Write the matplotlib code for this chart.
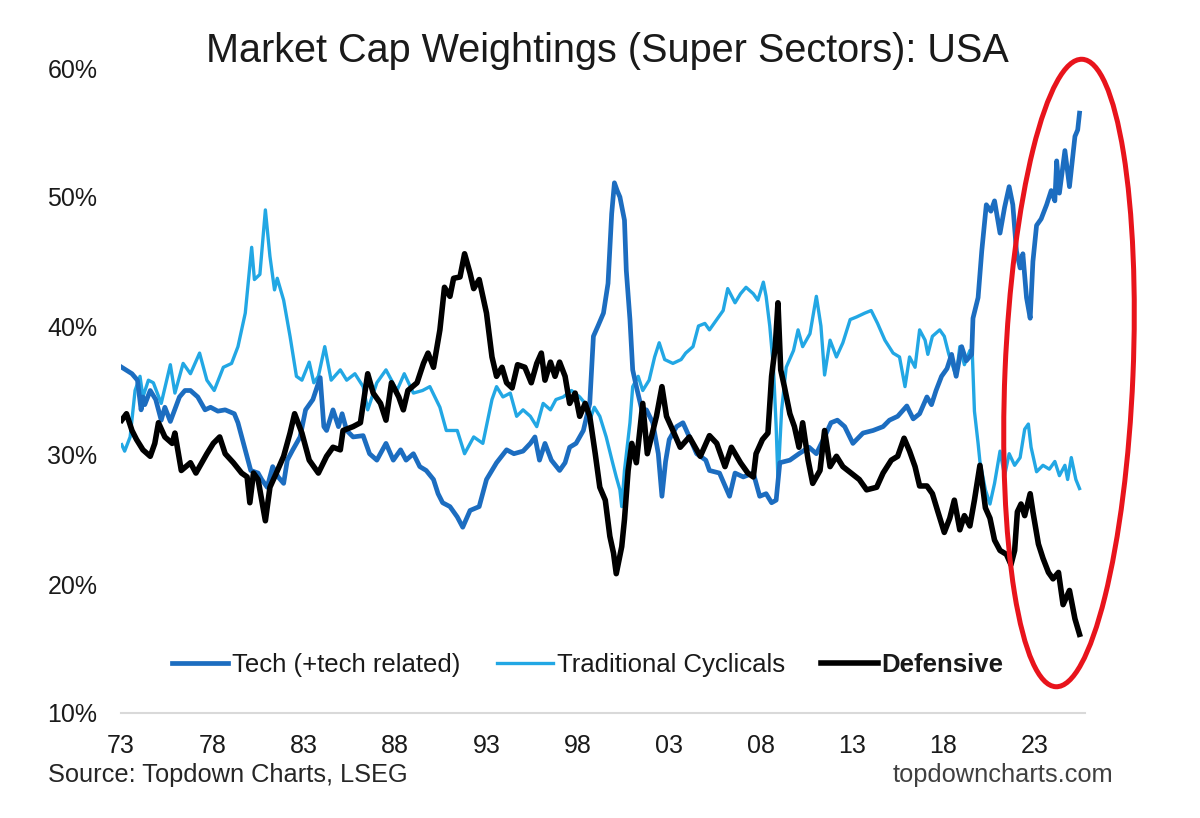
import matplotlib
matplotlib.use('Agg')
import matplotlib.pyplot as plt
from matplotlib.patches import Ellipse

plt.rcParams['font.family'] = ['Liberation Sans', 'DejaVu Sans']

# Tech (+tech related), share of US market cap (%)
tech_years = [
    1973.04, 1973.6, 1973.9, 1974.1, 1974.2, 1974.3, 1974.6, 1974.9, 1975.2, 1975.4,
    1975.7, 1976.2, 1976.5, 1976.8, 1977.2, 1977.6, 1977.9, 1978.3, 1978.7, 1979.2,
    1979.4, 1979.7, 1980.1, 1980.5, 1980.7, 1981.0, 1981.3, 1981.6, 1981.9, 1982.1,
    1982.4, 1982.8, 1983.1, 1983.5, 1983.9, 1984.1, 1984.25, 1984.6, 1984.9, 1985.1,
    1985.35, 1985.7, 1986.25, 1986.6, 1987.0, 1987.5, 1987.9, 1988.3, 1988.6, 1989.0,
    1989.35, 1989.7, 1990.1, 1990.35, 1990.6, 1991.0, 1991.4, 1991.7, 1992.1, 1992.6,
    1993.0, 1993.55, 1994.1, 1994.5, 1995.0, 1995.4, 1995.65, 1995.9, 1996.2, 1996.55,
    1997.0, 1997.3, 1997.55, 1997.9, 1998.3, 1998.65, 1998.85, 1999.1, 1999.4, 1999.65,
    1999.85, 2000.0, 2000.15, 2000.3, 2000.55, 2000.65, 2000.85, 2001.0, 2001.2, 2001.5,
    2001.75, 2002.1, 2002.4, 2002.6, 2002.8, 2003.0, 2003.4, 2003.75, 2004.1, 2004.5,
    2005.0, 2005.2, 2005.75, 2006.3, 2006.6, 2007.05, 2007.6, 2007.95, 2008.3, 2008.6,
    2008.85, 2009.05, 2009.6, 2010.1, 2010.65, 2011.05, 2011.5, 2011.85, 2012.2, 2012.6,
    2013.05, 2013.6, 2014.15, 2014.7, 2015.05, 2015.5, 2016.0, 2016.35, 2016.7, 2017.1,
    2017.35, 2017.6, 2017.9, 2018.2, 2018.45, 2018.7, 2019.0, 2019.25, 2019.55, 2019.62,
    2019.9, 2020.1, 2020.35, 2020.6, 2020.8, 2021.1, 2021.35, 2021.6, 2021.8, 2022.0,
    2022.2, 2022.35, 2022.55, 2022.75, 2022.9, 2023.1, 2023.35, 2023.65, 2023.9, 2024.1,
    2024.2, 2024.35, 2024.65, 2024.9, 2025.2, 2025.35, 2025.45,
]
tech_vals = [
    36.8, 36.3, 35.8, 33.5, 34.5, 33.9, 35.0, 34.3, 32.7, 33.7,
    32.6, 34.5, 35.0, 35.0, 34.5, 33.5, 33.7, 33.4, 33.5, 33.2,
    32.5, 30.9, 28.8, 28.6, 28.1, 27.5, 29.1, 28.3, 27.8, 29.6,
    30.4, 31.4, 33.5, 34.3, 36.0, 32.2, 31.9, 33.5, 32.2, 33.2,
    31.9, 31.4, 31.5, 30.1, 29.6, 30.9, 29.6, 30.4, 29.6, 30.1,
    29.1, 28.8, 28.1, 27.0, 26.3, 26.0, 25.2, 24.4, 25.7, 26.0,
    28.1, 29.4, 30.4, 30.1, 30.3, 30.9, 31.4, 29.6, 30.9, 29.6,
    28.8, 29.4, 30.6, 30.9, 31.9, 34.0, 39.2, 40.0, 41.0, 43.3,
    48.7, 51.1, 50.5, 50.0, 48.2, 44.3, 40.5, 36.6, 35.3, 33.5,
    33.5, 32.5, 30.1, 26.8, 29.5, 31.2, 32.2, 32.5, 31.4, 30.1,
    29.6, 28.8, 28.6, 26.8, 28.6, 28.3, 28.6, 26.8, 27.0, 26.3,
    26.5, 29.4, 29.6, 30.1, 30.6, 30.1, 31.4, 32.5, 32.7, 32.2,
    30.9, 31.7, 31.9, 32.2, 32.7, 33.0, 33.8, 32.8, 33.2, 34.5,
    33.9, 35.0, 36.1, 36.7, 37.8, 36.1, 38.4, 37.3, 37.8, 40.6,
    42.2, 45.8, 49.4, 48.9, 49.7, 47.2, 49.2, 50.8, 49.4, 45.8,
    44.5, 45.6, 42.2, 40.6, 45.0, 47.8, 48.3, 49.4, 50.5, 49.7,
    52.8, 50.3, 53.6, 50.8, 54.7, 55.2, 56.5,
]

# Traditional Cyclicals (%)
cyc_years = [
    1973.04, 1973.2, 1973.5, 1973.77, 1974.04, 1974.2, 1974.5, 1974.77, 1975.2, 1975.7,
    1975.95, 1976.4, 1976.8, 1977.3, 1977.7, 1978.1, 1978.6, 1979.05, 1979.4, 1979.8,
    1980.15, 1980.3, 1980.6, 1980.9, 1981.15, 1981.4, 1981.55, 1981.9, 1982.25, 1982.6,
    1982.9, 1983.3, 1983.55, 1983.8, 1984.15, 1984.5, 1985.0, 1985.35, 1985.8, 1986.25,
    1986.5, 1987.0, 1987.5, 1988.1, 1988.5, 1989.0, 1989.5, 1989.9, 1990.45, 1990.8,
    1991.4, 1991.8, 1992.3, 1992.8, 1993.3, 1993.55, 1993.9, 1994.3, 1994.65, 1995.0,
    1995.4, 1995.75, 1996.1, 1996.5, 1996.8, 1997.2, 1997.65, 1998.1, 1998.4, 1998.65,
    1998.9, 1999.2, 1999.55, 1999.9, 2000.1, 2000.3, 2000.4, 2000.55, 2000.85, 2001.0,
    2001.3, 2001.55, 2001.9, 2002.2, 2002.45, 2002.75, 2003.2, 2003.65, 2003.9, 2004.3,
    2004.6, 2004.95, 2005.2, 2005.6, 2005.95, 2006.2, 2006.6, 2006.9, 2007.2, 2007.6,
    2007.85, 2008.15, 2008.3, 2008.5, 2008.7, 2008.85, 2008.95, 2009.15, 2009.4, 2009.8,
    2010.05, 2010.3, 2010.7, 2011.05, 2011.3, 2011.5, 2011.8, 2012.15, 2012.5, 2012.9,
    2013.25, 2013.7, 2014.05, 2014.4, 2014.8, 2015.25, 2015.6, 2015.9, 2016.15, 2016.45,
    2016.7, 2017.0, 2017.15, 2017.4, 2017.8, 2018.05, 2018.3, 2018.7, 2018.9, 2019.15,
    2019.45, 2019.58, 2019.7, 2019.9, 2020.0, 2020.3, 2020.55, 2020.8, 2021.1, 2021.35,
    2021.6, 2021.9, 2022.2, 2022.45, 2022.65, 2022.8, 2023.1, 2023.45, 2023.8, 2024.1,
    2024.35, 2024.65, 2024.8, 2025.0, 2025.25, 2025.45,
]
cyc_vals = [
    30.8, 30.3, 31.4, 35.0, 36.1, 34.5, 35.8, 35.6, 34.0, 37.0,
    34.8, 37.1, 36.3, 37.9, 35.8, 35.0, 36.8, 37.1, 38.4, 41.0,
    46.1, 43.6, 44.0, 49.0, 45.4, 42.8, 43.7, 42.0, 39.2, 36.1,
    35.8, 37.2, 35.6, 36.1, 38.4, 35.8, 36.6, 35.8, 36.3, 35.3,
    33.5, 35.6, 36.6, 35.0, 36.3, 34.8, 35.0, 35.3, 33.7, 31.9,
    31.9, 30.1, 31.4, 30.9, 34.3, 35.3, 34.5, 34.8, 33.0, 33.5,
    33.0, 32.2, 34.0, 33.5, 34.3, 34.5, 35.0, 34.5, 34.0, 32.7,
    33.7, 33.0, 31.4, 29.4, 28.3, 27.3, 26.0, 28.8, 32.5, 35.3,
    36.1, 35.0, 35.8, 37.6, 38.7, 37.4, 37.1, 37.4, 37.9, 38.4,
    40.0, 40.2, 39.7, 40.5, 41.2, 42.9, 41.8, 42.5, 43.0, 42.5,
    42.0, 43.4, 42.3, 40.0, 36.8, 32.2, 28.0, 33.5, 36.8, 38.1,
    39.7, 38.4, 39.4, 42.3, 40.0, 36.2, 38.9, 37.6, 38.7, 40.5,
    40.7, 41.0, 41.2, 40.2, 38.9, 37.9, 37.6, 35.3, 37.6, 36.8,
    39.7, 38.9, 37.8, 39.2, 39.7, 39.2, 37.8, 36.1, 38.4, 37.0,
    38.1, 38.0, 33.4, 30.9, 29.5, 27.3, 26.2, 27.8, 30.3, 28.4,
    30.1, 29.2, 29.8, 32.0, 32.4, 30.6, 28.7, 29.2, 28.9, 29.5,
    28.4, 29.2, 28.1, 29.8, 28.1, 27.4,
]

# Defensive (%)
def_years = [
    1973.04, 1973.3, 1973.6, 1973.85, 1974.2, 1974.6, 1974.85, 1975.05, 1975.4, 1975.8,
    1975.95, 1976.3, 1976.8, 1977.1, 1977.7, 1978.05, 1978.4, 1978.7, 1979.15, 1979.6,
    1979.9, 1980.05, 1980.25, 1980.5, 1980.9, 1981.15, 1981.5, 1981.9, 1982.25, 1982.5,
    1982.9, 1983.3, 1983.8, 1984.25, 1984.6, 1985.0, 1985.15, 1985.7, 1986.1, 1986.5,
    1986.8, 1987.2, 1987.5, 1987.8, 1988.2, 1988.45, 1988.7, 1989.2, 1989.55, 1989.8,
    1990.1, 1990.45, 1990.7, 1991.0, 1991.2, 1991.55, 1991.8, 1992.1, 1992.3, 1992.6,
    1993.0, 1993.3, 1993.55, 1993.85, 1994.1, 1994.4, 1994.7, 1995.1, 1995.45, 1995.75,
    1996.0, 1996.2, 1996.5, 1996.75, 1997.0, 1997.3, 1997.55, 1997.85, 1998.1, 1998.4,
    1998.65, 1998.95, 1999.2, 1999.5, 1999.75, 1999.95, 2000.1, 2000.4, 2000.55, 2000.75,
    2000.95, 2001.2, 2001.55, 2001.8, 2002.3, 2002.6, 2002.85, 2003.2, 2003.6, 2004.1,
    2004.7, 2005.2, 2005.6, 2006.05, 2006.4, 2006.9, 2007.3, 2007.6, 2007.75, 2008.1,
    2008.4, 2008.6, 2008.8, 2008.95, 2009.1, 2009.3, 2009.6, 2009.85, 2010.1, 2010.3,
    2010.6, 2010.85, 2011.25, 2011.5, 2011.8, 2012.15, 2012.5, 2012.95, 2013.4, 2013.8,
    2014.35, 2014.7, 2015.15, 2015.5, 2015.85, 2016.15, 2016.45, 2016.7, 2017.1, 2017.4,
    2017.7, 2018.05, 2018.35, 2018.6, 2018.9, 2019.15, 2019.45, 2019.7, 2020.0, 2020.3,
    2020.55, 2020.8, 2021.1, 2021.45, 2021.7, 2021.9, 2022.05, 2022.25, 2022.45, 2022.75,
    2022.9, 2023.2, 2023.45, 2023.75, 2024.0, 2024.3, 2024.55, 2024.9, 2025.2, 2025.45,
]
def_vals = [
    32.7, 33.2, 31.9, 31.2, 30.4, 29.9, 30.9, 32.5, 31.4, 30.9,
    31.7, 28.8, 29.4, 28.6, 30.1, 30.9, 31.4, 30.1, 29.4, 28.6,
    28.3, 26.3, 28.6, 28.1, 24.9, 27.5, 28.6, 29.9, 31.7, 33.2,
    31.7, 29.6, 28.6, 29.9, 30.6, 30.4, 31.9, 32.2, 32.5, 36.3,
    34.8, 34.0, 32.7, 35.6, 34.5, 33.5, 35.0, 35.6, 37.1, 37.9,
    36.8, 39.7, 43.0, 42.3, 43.7, 43.8, 45.6, 44.1, 42.9, 43.6,
    41.0, 37.6, 36.1, 36.8, 35.6, 35.2, 37.0, 36.8, 35.6, 37.1,
    37.9, 35.8, 37.2, 36.1, 37.2, 36.1, 34.0, 34.8, 33.0, 34.0,
    33.0, 30.1, 27.5, 26.5, 23.7, 22.4, 20.8, 22.9, 25.0, 28.8,
    30.9, 29.4, 34.0, 30.1, 33.0, 35.3, 33.0, 31.9, 30.6, 31.4,
    29.9, 31.5, 30.9, 29.1, 30.6, 29.4, 28.6, 28.3, 30.1, 31.2,
    31.7, 36.1, 38.4, 41.8, 36.6, 35.3, 33.2, 32.2, 30.6, 32.5,
    29.6, 27.8, 28.8, 31.9, 29.1, 29.9, 29.1, 28.6, 28.1, 27.3,
    27.5, 28.6, 29.6, 29.9, 31.3, 30.3, 29.1, 27.6, 27.6, 27.0,
    25.6, 24.0, 25.1, 26.5, 24.2, 25.3, 24.5, 26.5, 29.2, 25.9,
    25.1, 23.4, 22.6, 22.3, 21.5, 22.6, 25.6, 26.2, 25.3, 27.0,
    25.6, 23.1, 22.0, 20.9, 20.4, 20.9, 18.4, 19.5, 17.3, 16.1,
]

x_ticks = [1973, 1978, 1983, 1988, 1993, 1998, 2003, 2008, 2013, 2018, 2023]
y_ticks = [10, 20, 30, 40, 50, 60]

TECH_COLOR = '#1C6DC0'
CYC_COLOR = '#22A7E4'
DEF_COLOR = '#000000'
TEXT_COLOR = '#1a1a1a'

fig = plt.figure(figsize=(12, 8.18), dpi=100)
ax = fig.add_axes([121/1200, 105/818, 964/1200, 645/818])

ax.plot(tech_years, tech_vals, color=TECH_COLOR, lw=3.4, label='Tech (+tech related)',
        solid_joinstyle='round', zorder=3)
ax.plot(cyc_years, cyc_vals, color=CYC_COLOR, lw=2.4, label='Traditional Cyclicals',
        solid_joinstyle='round', zorder=2)
ax.plot(def_years, def_vals, color=DEF_COLOR, lw=4.0, label='Defensive',
        solid_joinstyle='round', zorder=4)

ax.set_xlim(1973, 2025.75)
ax.set_ylim(10, 60)
ax.set_xticks(x_ticks)
ax.set_xticklabels([f'{y % 100:02d}' for y in x_ticks])
ax.set_yticks(y_ticks)
ax.set_yticklabels([f'{v}%' for v in y_ticks])
ax.tick_params(axis='both', length=0, labelsize=18, colors=TEXT_COLOR)
ax.tick_params(axis='y', pad=17)
ax.tick_params(axis='x', pad=15)

for side in ['top', 'right', 'left']:
    ax.spines[side].set_visible(False)
ax.spines['bottom'].set_color('#d9d9d9')
ax.spines['bottom'].set_linewidth(1.5)

leg = ax.legend(loc='center', bbox_to_anchor=(0.484, 0.074), ncol=3, frameon=False,
                fontsize=18.5, handlelength=2.2, handletextpad=0.15, columnspacing=1.4)
for t in leg.get_texts():
    t.set_color(TEXT_COLOR)
leg.get_texts()[2].set_fontweight('bold')

fig.text(0.506, 1 - 51/818, 'Market Cap Weightings (Super Sectors): USA',
         ha='center', va='center', fontsize=28.5, color=TEXT_COLOR)
fig.text(48/1200, 1 - 775/818, 'Source: Topdown Charts, LSEG',
         ha='left', va='center', fontsize=18.3, color='#262626')
fig.text(1113/1200, 1 - 775/818, 'topdowncharts.com',
         ha='right', va='center', fontsize=18.3, color='#404040')

# red highlight ellipse, drawn in inches (dpi = 100)
ell = Ellipse((10.69, (818 - 373) / 100), 1.28, 6.28, angle=-2.4,
              transform=fig.dpi_scale_trans, fill=False, edgecolor='#E8141C', lw=3.6)
fig.add_artist(ell)

fig.savefig('out.png', dpi=100, facecolor='white')
